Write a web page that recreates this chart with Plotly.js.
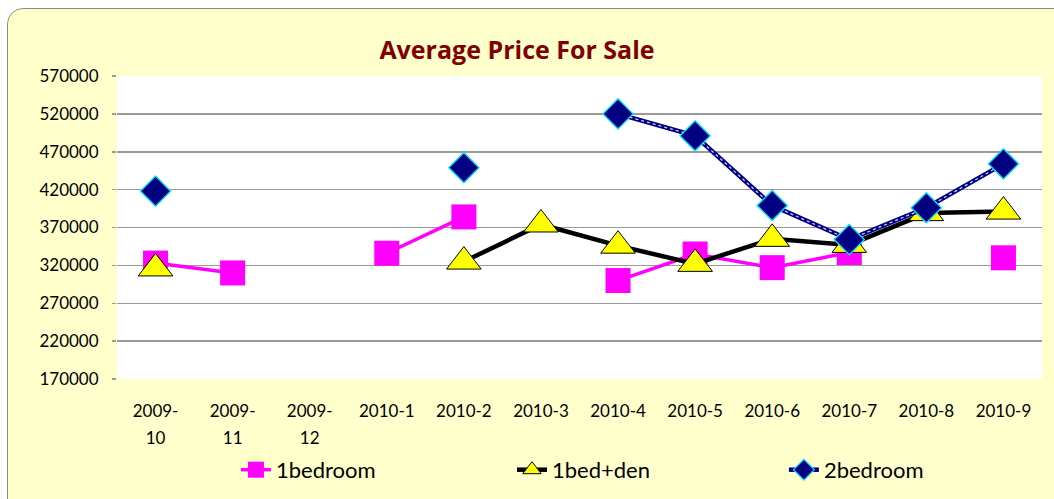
<!DOCTYPE html>
<html><head><meta charset="utf-8">
<script src="https://cdn.plot.ly/plotly-3.0.1.min.js"></script>
<style>
html,body{margin:0;padding:0;background:#fff;overflow:hidden;width:1054px;height:499px;}
#bg{position:absolute;left:7px;top:8px;width:1080px;height:530px;background:#FFFFCC;border:1.5px solid #8c8c8c;border-radius:16px;}
#chart{position:absolute;left:0;top:0;width:1054px;height:499px;}
</style></head><body>
<div id="bg"></div><div id="chart"></div>
<script>
const categories = ["2009-10","2009-11","2009-12","2010-1","2010-2","2010-3","2010-4","2010-5","2010-6","2010-7","2010-8","2010-9"];
const tickLabels = ["2009-\n10","2009-\n11","2009-\n12","2010-1","2010-2","2010-3","2010-4","2010-5","2010-6","2010-7","2010-8","2010-9"];
const oneBedroom = [323000, 310000, null, 336000, 384000, null, 300000, 335000, 317000, 337000, null, 330000];
const oneBedDen  = [316000, null, null, null, 325000, 374000, 346000, 322000, 355000, 347000, 389000, 391000];
const twoBedroom = [418000, null, null, null, 449000, null, 520000, 491000, 399000, 354000, 396000, 454000];
const yTicks = [170000, 220000, 270000, 320000, 370000, 420000, 470000, 520000, 570000];

const line1 = tickLabels.map(t => t.split("\n")[0]);
const line2 = tickLabels.map(t => t.split("\n")[1] || "");

const traces = [
  {x: categories, y: oneBedroom, name: "1bedroom", type: "scatter", mode: "lines+markers",
   connectgaps: false, line: {color: "#FF00FF", width: 3.5}, legend: "legend",
   marker: {symbol: "square", size: 25, color: "#FF00FF"}},
  {x: categories, y: oneBedDen, name: "1bed+den", type: "scatter", mode: "lines+markers",
   connectgaps: false, line: {color: "#000000", width: 4.5}, legend: "legend2",
   marker: {symbol: "triangle-up", size: 30, color: "#FFFF00", line: {color: "#000000", width: 1}}},
  {x: categories, y: twoBedroom, name: "2bedroom", type: "scatter", mode: "lines+markers",
   connectgaps: false, line: {color: "#000080", width: 4.5}, legend: "legend3",
   marker: {symbol: "diamond", size: 23, color: "#000080", line: {color: "#00E5FF", width: 1.2}}},
  {x: categories, y: twoBedroom, name: "2bedroom-stitch", type: "scatter", mode: "lines",
   connectgaps: false, showlegend: false, line: {color: "#c8ccff", width: 1.3, dash: "dot"}},
  {x: categories, y: twoBedroom, name: "2bedroom-markers", type: "scatter", mode: "markers",
   showlegend: false,
   marker: {symbol: "diamond", size: 23, color: "#000080", line: {color: "#00E5FF", width: 1.2}}},
  {x: categories, y: categories.map(() => null), xaxis: "x2", type: "scatter", mode: "markers",
   showlegend: false, hoverinfo: "skip"}
];

const legendBase = {orientation: "h", y: -0.30, yanchor: "middle", xanchor: "left",
  bgcolor: "rgba(0,0,0,0)", font: {size: 22, color: "#000"}};

const layout = {
  width: 1054, height: 499,
  paper_bgcolor: "rgba(0,0,0,0)", plot_bgcolor: "#FFFFFF",
  margin: {l: 117, r: 12, t: 76, b: 120, autoexpand: false},
  font: {family: "Lato, 'Open Sans', sans-serif", color: "#000", size: 17},
  title: {text: "<b>Average Price For Sale</b>", font: {family: "'Open Sans', sans-serif", size: 25, color: "#800000"},
          xref: "container", x: 0.4905, xanchor: "center", yref: "container", y: 0.9, yanchor: "middle"},
  xaxis: {type: "category", categoryorder: "array", categoryarray: categories,
          tickmode: "array", tickvals: categories, ticktext: line1,
          range: [-0.5, 11.5], showgrid: false, zeroline: false, showline: false,
          ticks: "", ticklabelstandoff: 20, tickfont: {size: 17}},
  xaxis2: {type: "category", categoryorder: "array", categoryarray: categories, overlaying: "x",
          anchor: "y", side: "bottom",
          tickmode: "array", tickvals: categories, ticktext: line2,
          range: [-0.5, 11.5], showgrid: false, zeroline: false, showline: false,
          ticks: "", ticklabelstandoff: 47, tickfont: {size: 17}},
  yaxis: {range: [170000, 570000], tickmode: "array", tickvals: yTicks, tickformat: "d",
          showgrid: true, gridcolor: "#9a9a9a", gridwidth: 1.5, zeroline: false, showline: false,
          ticks: "outside", ticklen: 4, tickcolor: "#9a9a9a", tickwidth: 1.5, ticklabelstandoff: 10,
          tickfont: {size: 17}},
  showlegend: true,
  legend: Object.assign({}, legendBase, {x: 0.1286}),
  legend2: Object.assign({}, legendBase, {x: 0.427}),
  legend3: Object.assign({}, legendBase, {x: 0.721}),
  hovermode: false
};
Plotly.newPlot("chart", traces, layout, {displayModeBar: false, staticPlot: true});
</script>
</body></html>
